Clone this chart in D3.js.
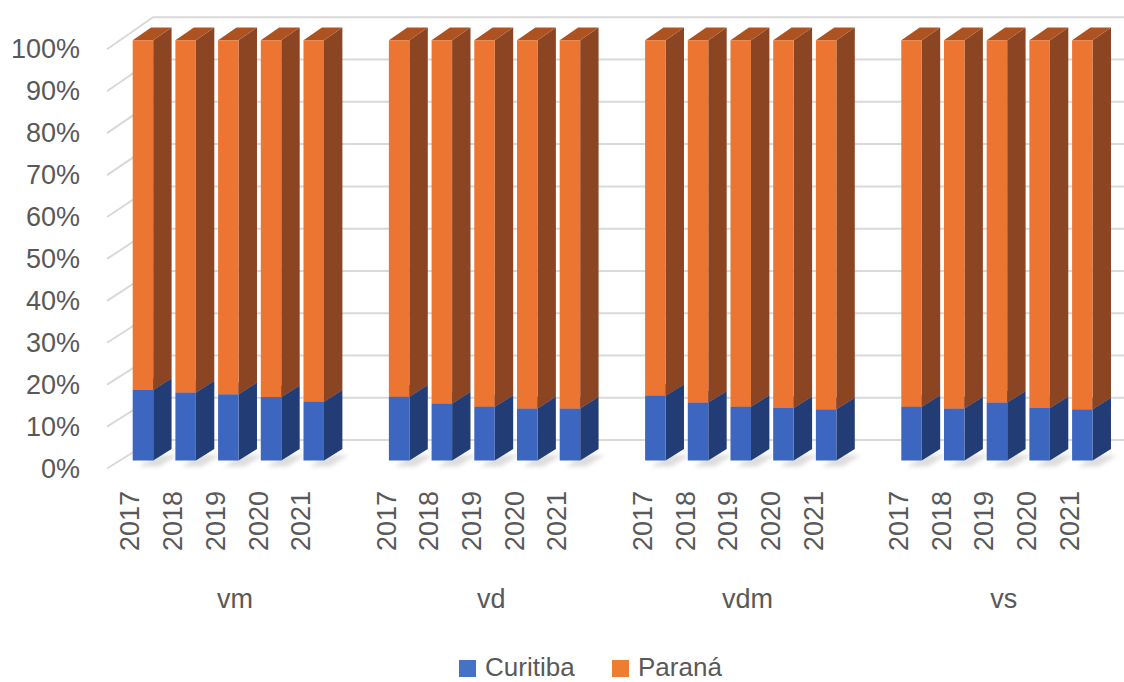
<!DOCTYPE html>
<html>
<head>
<meta charset="utf-8">
<script src="https://cdn.jsdelivr.net/npm/d3@7"></script>
<style>
  html, body { margin: 0; padding: 0; background: #ffffff; }
  svg { display: block; }
  text { font-family: "Liberation Sans", Arial, sans-serif; fill: #595959; }
</style>
</head>
<body>
<svg id="chart" width="1124" height="682"></svg>
<script>
// ---- data ----
const groups = ["vm", "vd", "vdm", "vs"];
const years = ["2017", "2018", "2019", "2020", "2021"];
const seriesNames = ["Curitiba", "Paraná"];
// share of each region (%), per group, per year
const curitiba = {
  vm:  [16.8, 16.2, 15.8, 15.1, 14.0],
  vd:  [15.2, 13.6, 12.8, 12.4, 12.4],
  vdm: [15.4, 13.8, 12.8, 12.5, 12.2],
  vs:  [12.8, 12.4, 13.8, 12.5, 12.2]
};
const parana = {
  vm:  [83.2, 83.8, 84.2, 84.9, 86.0],
  vd:  [84.8, 86.4, 87.2, 87.6, 87.6],
  vdm: [84.6, 86.2, 87.2, 87.5, 87.8],
  vs:  [87.2, 87.6, 86.2, 87.5, 87.8]
};
const tickValues = [0, 0.1, 0.2, 0.3, 0.4, 0.5, 0.6, 0.7, 0.8, 0.9, 1];
const tickLabels = ["0%", "10%", "20%", "30%", "40%", "50%", "60%", "70%", "80%", "90%", "100%"];

const colors = {
  Curitiba: { front: "#3e66c0", side: "#243e76", top: "#2f52a0" },
  "Paraná": { front: "#ec7431", side: "#8b4520", top: "#ad5321" }
};
const legendColors = { Curitiba: "#4472c4", "Paraná": "#ed7d31" };

// ---- rows for the stack ----
const rows = [];
groups.forEach(g => {
  years.forEach((y, i) => {
    rows.push({ key: g + "|" + y, group: g, year: y, Curitiba: curitiba[g][i], "Paraná": parana[g][i] });
  });
});
const slotKeys = [];
groups.forEach(g => { years.forEach(y => slotKeys.push(g + "|" + y)); slotKeys.push(g + "|gap"); });

const stacked = d3.stack().keys(seriesNames).offset(d3.stackOffsetExpand)(rows);

// ---- 3D projection (oblique): front plane + depth vector ----
const svg = d3.select("#chart");
const x = d3.scaleBand().domain(slotKeys).range([107, 1131.8]).padding(0);
const yFront = d3.scaleLinear().domain([0, 1]).range([468.5, 49.3]);
const yBack = d3.scaleLinear().domain([0, 1]).range([440, 17.3]);
const depthX = 46;
function project(px, v, z) {
  return [px + depthX * z, yFront(v) * (1 - z) + yBack(v) * z];
}
const zFront = 0.28, zBackBar = 0.68;

const defs = svg.append("defs");
defs.append("filter").attr("id", "soft").attr("x", "-50%").attr("y", "-50%").attr("width", "200%").attr("height", "200%")
  .append("feGaussianBlur").attr("stdDeviation", 2.2);
defs.append("filter").attr("id", "edge").append("feGaussianBlur").attr("stdDeviation", 0.6);

const poly = pts => "M" + pts.map(p => p.join(",")).join("L") + "Z";

// ---- gridlines: side wall diagonal + back wall horizontal ----
const grid = svg.append("g").attr("stroke", "#d9d9d9").attr("stroke-width", 2).attr("fill", "none");
tickValues.forEach(v => {
  const a = project(107, v, 0), b = project(107, v, 1);
  grid.append("path").attr("d", `M${a[0]},${a[1]}L${b[0]},${b[1]}L1130,${b[1]}`);
});

// ---- floor shadows ----
const shadowG = svg.append("g").attr("filter", "url(#soft)");
const bw = x.bandwidth();
rows.forEach(r => {
  const x0 = x(r.key) + bw * 0.3, x1 = x0 + bw * 0.48;
  const p = [project(x0, 0, zFront), project(x1, 0, zFront), project(x1, 0, zBackBar), project(x0, 0, zBackBar)]
    .map(q => [q[0] + 6, q[1] + 6]);
  shadowG.append("path").attr("d", poly(p)).attr("fill", "#d4d4d4").attr("opacity", 0.8);
});

// ---- bars ----
const bars = svg.append("g").attr("filter", "url(#edge)");
rows.forEach((r, i) => {
  const x0 = x(r.key) + bw * 0.3, x1 = x0 + bw * 0.48;
  stacked.forEach(s => {
    const c = colors[s.key];
    const [v0, v1] = s[i];
    const f = [project(x0, v0, zFront), project(x1, v0, zFront), project(x1, v1, zFront), project(x0, v1, zFront)];
    const side = [project(x1, v0, zFront), project(x1, v0, zBackBar), project(x1, v1, zBackBar), project(x1, v1, zFront)];
    const top = [project(x0, v1, zFront), project(x1, v1, zFront), project(x1, v1, zBackBar), project(x0, v1, zBackBar)];
    bars.append("path").attr("d", poly(side)).attr("fill", c.side);
    bars.append("path").attr("d", poly(top)).attr("fill", c.top);
    bars.append("path").attr("d", poly(f)).attr("fill", c.front);
  });
});

// ---- value axis labels ----
const yAxis = svg.append("g");
tickValues.forEach((v, i) => {
  yAxis.append("text").attr("x", 80).attr("y", yFront(v)).attr("text-anchor", "end")
    .attr("dominant-baseline", "central").attr("font-size", 27).text(tickLabels[i]);
});

// ---- category labels: years (rotated) and groups ----
const catG = svg.append("g");
rows.forEach(r => {
  const cx = x(r.key) + bw * 0.55;
  catG.append("text").attr("transform", `translate(${cx},491) rotate(-90)`)
    .attr("text-anchor", "end").attr("dominant-baseline", "central").attr("font-size", 27).text(r.year);
});
groups.forEach(g => {
  const gx = x(g + "|2017") + bw * 3;
  catG.append("text").attr("x", gx).attr("y", 599).attr("text-anchor", "middle")
    .attr("dominant-baseline", "central").attr("font-size", 27).text(g);
});

// ---- legend ----
const legend = svg.append("g");
const legendX = [459, 612];
seriesNames.forEach((n, i) => {
  legend.append("rect").attr("x", legendX[i]).attr("y", 660).attr("width", 17).attr("height", 17).attr("fill", legendColors[n]);
  legend.append("text").attr("x", legendX[i] + 26).attr("y", 676)
    .attr("font-size", 26).text(n);
});
</script>
</body>
</html>
